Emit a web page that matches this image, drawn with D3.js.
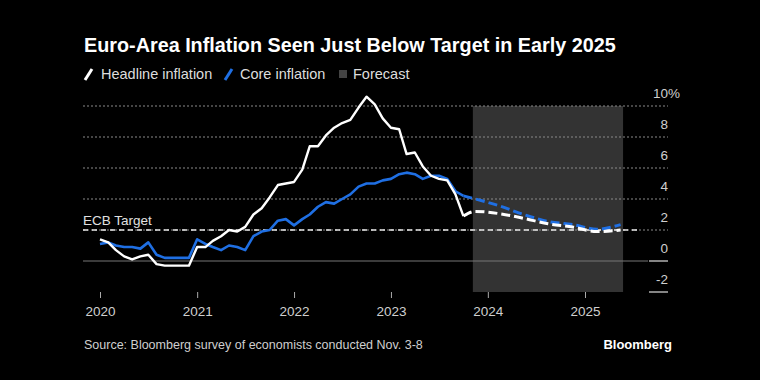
<!DOCTYPE html>
<html>
<head>
<meta charset="utf-8">
<script src="https://cdn.jsdelivr.net/npm/d3@7"></script>
<style>
  body { margin: 0; background: #000; }
  svg { display: block; font-family: "Liberation Sans", Arial, sans-serif; }
</style>
</head>
<body>
<div id="vis"></div>
<script>
// Declare constants for frame
const FRAME_WIDTH = 760;
const FRAME_HEIGHT = 380;

// monthly actuals, Jan 2020 - Oct 2023
const MONTHS = d3.timeMonths(new Date(2020, 0, 1), new Date(2023, 10, 1));
const HEADLINE = [1.4, 1.2, 0.7, 0.3, 0.1, 0.3, 0.4, -0.2, -0.3, -0.3, -0.3, -0.3,
                  0.9, 0.9, 1.3, 1.6, 2.0, 1.9, 2.2, 3.0, 3.4, 4.1, 4.9, 5.0,
                  5.1, 5.9, 7.4, 7.4, 8.1, 8.6, 8.9, 9.1, 9.9, 10.6, 10.1, 9.2,
                  8.6, 8.5, 6.9, 7.0, 6.1, 5.5, 5.3, 5.2, 4.3, 2.9];
const CORE = [1.1, 1.2, 1.0, 0.9, 0.9, 0.8, 1.2, 0.4, 0.2, 0.2, 0.2, 0.2,
              1.4, 1.1, 0.9, 0.7, 1.0, 0.9, 0.7, 1.6, 1.9, 2.0, 2.6, 2.7,
              2.3, 2.7, 3.0, 3.5, 3.8, 3.7, 4.0, 4.3, 4.8, 5.0, 5.0, 5.2,
              5.3, 5.6, 5.7, 5.6, 5.3, 5.5, 5.5, 5.3, 4.5, 4.2];

// quarterly forecasts (mid-quarter), starting from last actual
const FC_DATES = ["2023-10-01", "2023-11-15", "2024-02-15", "2024-05-15", "2024-08-15",
                  "2024-11-15", "2025-02-15", "2025-05-15"];
const FC_HEADLINE = [2.9, 3.2, 3.05, 2.75, 2.4, 2.2, 1.9, 2.0];
const FC_CORE = [4.2, 4.0, 3.55, 3.0, 2.55, 2.35, 2.05, 2.35];

const Y_TICKS = [-2, 0, 2, 4, 6, 8, 10];
const YEARS = [2020, 2021, 2022, 2023, 2024, 2025];
const ECB_TARGET = 2;

const WHITE = "#ffffff";
const BLUE = "#1f6fe3";

const FRAME = d3.select("#vis")
                .append("svg")
                  .attr("width", FRAME_WIDTH)
                  .attr("height", FRAME_HEIGHT);

FRAME.append("rect")
     .attr("width", FRAME_WIDTH)
     .attr("height", FRAME_HEIGHT)
     .attr("fill", "#000");

// scales
const X_SCALE = d3.scaleTime()
                  .domain([new Date(2020, 0, 1), new Date(2025, 0, 1)])
                  .range([100, 585]);
const Y_SCALE = d3.scaleLinear()
                  .domain([-2, 10])
                  .range([292, 106]);

const GRID_LEFT = 83;
const GRID_RIGHT = 668;

// forecast shading
const fcDates = FC_DATES.map(d => new Date(d + "T00:00:00"));
FRAME.append("rect")
     .attr("x", X_SCALE(fcDates[1]) - 2.5)
     .attr("y", Y_SCALE(10))
     .attr("width", X_SCALE(fcDates[fcDates.length - 1]) - X_SCALE(fcDates[1]) + 5)
     .attr("height", Y_SCALE(-2) - Y_SCALE(10))
     .attr("fill", "#333333");

// gridlines
Y_TICKS.forEach(t => {
  if (t > 0) {
    FRAME.append("line")
         .attr("x1", GRID_LEFT).attr("x2", GRID_RIGHT)
         .attr("y1", Y_SCALE(t)).attr("y2", Y_SCALE(t))
         .attr("stroke", "#8a8a8a")
         .attr("stroke-width", 1)
         .attr("stroke-dasharray", "2,2");
  } else {
    if (t === 0) {
      FRAME.append("line")
           .attr("x1", GRID_LEFT).attr("x2", 648)
           .attr("y1", Y_SCALE(t)).attr("y2", Y_SCALE(t))
           .attr("stroke", "#777")
           .attr("stroke-width", 1.2);
    }
    FRAME.append("line")
         .attr("x1", 649).attr("x2", GRID_RIGHT)
         .attr("y1", Y_SCALE(t)).attr("y2", Y_SCALE(t))
         .attr("stroke", "#ddd")
         .attr("stroke-width", 1.2);
  }
  // label sits above its gridline
  FRAME.append("text")
       .attr("x", GRID_RIGHT)
       .attr("y", Y_SCALE(t) - 8)
       .attr("text-anchor", "end")
       .attr("fill", "#cfcfcf")
       .attr("font-size", 13.5)
       .text(t < 0 ? "-" + Math.abs(t) : t);
  if (t === 10) {
    FRAME.append("text")
         .attr("x", GRID_RIGHT)
         .attr("y", Y_SCALE(t) - 8)
         .attr("fill", "#cfcfcf")
         .attr("font-size", 13.5)
         .text("%");
  }
});

// x axis
const xAxis = d3.axisBottom(X_SCALE)
                .tickValues(YEARS.map(y => new Date(y, 0, 1)))
                .tickFormat(d3.timeFormat("%Y"))
                .tickSize(6)
                .tickPadding(8);
const gx = FRAME.append("g")
                .attr("transform", "translate(0," + 292 + ")")
                .call(xAxis);
gx.select(".domain").remove();
gx.selectAll(".tick line").attr("stroke", "#aaa");
gx.selectAll(".tick text")
  .attr("fill", "#cfcfcf")
  .attr("font-size", 13.5)
  .attr("font-family", "Liberation Sans, Arial, sans-serif");

// ECB target
FRAME.append("line")
     .attr("x1", GRID_LEFT).attr("x2", 640)
     .attr("y1", Y_SCALE(ECB_TARGET)).attr("y2", Y_SCALE(ECB_TARGET))
     .attr("stroke", "#e8e8e8")
     .attr("stroke-width", 1.6)
     .attr("stroke-dasharray", "5,4");
FRAME.append("text")
     .attr("x", GRID_LEFT)
     .attr("y", Y_SCALE(ECB_TARGET) - 5)
     .attr("fill", "#e0e0e0")
     .attr("font-size", 13.5)
     .text("ECB Target");

// lines
const line = d3.line()
               .x(d => X_SCALE(d.date))
               .y(d => Y_SCALE(d.value));
const fcLine = d3.line()
                 .curve(d3.curveMonotoneX)
                 .x(d => X_SCALE(d.date))
                 .y(d => Y_SCALE(d.value));

const coreData = MONTHS.map((m, i) => ({date: m, value: CORE[i]}));
const headData = MONTHS.map((m, i) => ({date: m, value: HEADLINE[i]}));
const fcCore = fcDates.map((d, i) => ({date: d, value: FC_CORE[i]}));
const fcHead = fcDates.map((d, i) => ({date: d, value: FC_HEADLINE[i]}));

FRAME.append("path")
     .datum(fcCore)
     .attr("d", fcLine)
     .attr("fill", "none")
     .attr("stroke", BLUE)
     .attr("stroke-width", 3)
     .attr("stroke-dasharray", "9,4");
FRAME.append("path")
     .datum(fcHead)
     .attr("d", fcLine)
     .attr("fill", "none")
     .attr("stroke", WHITE)
     .attr("stroke-width", 3)
     .attr("stroke-dasharray", "9,4");

FRAME.append("path")
     .datum(coreData)
     .attr("d", line)
     .attr("fill", "none")
     .attr("stroke", BLUE)
     .attr("stroke-width", 2.6)
     .attr("stroke-linejoin", "round");
FRAME.append("path")
     .datum(headData)
     .attr("d", line)
     .attr("fill", "none")
     .attr("stroke", WHITE)
     .attr("stroke-width", 2.4)
     .attr("stroke-linejoin", "round");

// title
FRAME.append("text")
     .attr("x", 84)
     .attr("y", 52)
     .attr("fill", "#fff")
     .attr("font-size", 19.8)
     .attr("font-weight", "bold")
     .text("Euro-Area Inflation Seen Just Below Target in Early 2025");

// legend
const legend = FRAME.append("g").attr("transform", "translate(84,74)");
legend.append("line")
      .attr("x1", 1).attr("y1", 6).attr("x2", 8).attr("y2", -5)
      .attr("stroke", WHITE).attr("stroke-width", 3);
legend.append("text")
      .attr("x", 17).attr("y", 5)
      .attr("fill", "#ddd").attr("font-size", 14.5)
      .text("Headline inflation");
legend.append("line")
      .attr("x1", 141).attr("y1", 6).attr("x2", 148).attr("y2", -5)
      .attr("stroke", BLUE).attr("stroke-width", 3);
legend.append("text")
      .attr("x", 156).attr("y", 5)
      .attr("fill", "#ddd").attr("font-size", 14.5)
      .text("Core inflation");
legend.append("rect")
      .attr("x", 255).attr("y", -4).attr("width", 8).attr("height", 8)
      .attr("fill", "#444");
legend.append("text")
      .attr("x", 269).attr("y", 5)
      .attr("fill", "#ddd").attr("font-size", 14.5)
      .text("Forecast");

// footer
FRAME.append("text")
     .attr("x", 84)
     .attr("y", 349)
     .attr("fill", "#cfcfcf")
     .attr("font-size", 12.5)
     .text("Source: Bloomberg survey of economists conducted Nov. 3-8");
FRAME.append("text")
     .attr("x", 672)
     .attr("y", 349)
     .attr("text-anchor", "end")
     .attr("fill", "#fff")
     .attr("font-size", 13)
     .attr("font-weight", "bold")
     .text("Bloomberg");
</script>
</body>
</html>
